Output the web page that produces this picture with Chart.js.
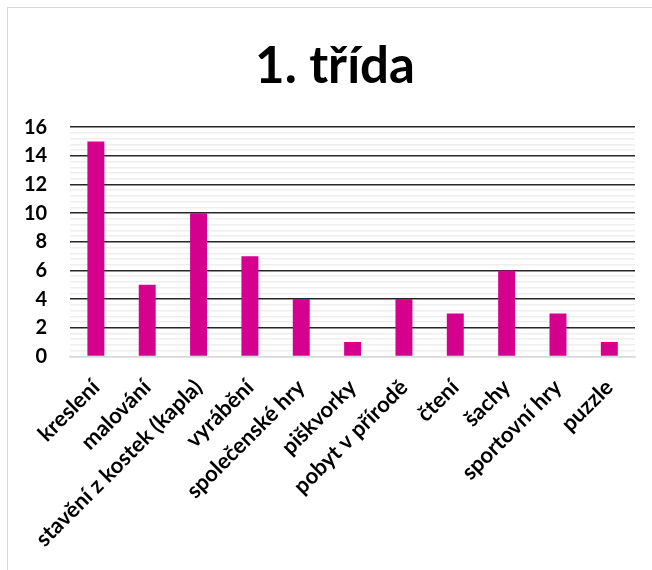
<!DOCTYPE html>
<html>
<head>
<meta charset="utf-8">
<script src="https://cdn.jsdelivr.net/npm/chart.js@4/dist/chart.umd.min.js"></script>
<style>
  html, body { margin: 0; padding: 0; background: #fff; overflow: hidden; }
  .frame { position: absolute; left: 7px; top: 7px; width: 700px; height: 620px; border: 1px solid #d9d9d9; }
  .chart-container { position: absolute; left: 0; top: 0; width: 652px; height: 570px; }
</style>
</head>
<body>
<div class="frame"></div>
<div class="chart-container">
  <canvas id="classChart" width="652" height="570"></canvas>
</div>
<script>
var chartTitle = "1. třída";
var labelData = [
  "kreslení", "malování", "stavění z kostek (kapla)", "vyrábění",
  "společenské hry", "piškvorky", "pobyt v přírodě", "čtení",
  "šachy", "sportovní hry", "puzzle"
];
var countData = [15, 5, 10, 7, 4, 1, 4, 3, 6, 3, 1];
var yMin = 0;
var yMax = 16;
var majorStep = 2;
var minorStep = 0.4;

var barColor = "#d6008f";
var fontFamily = "Lato, 'Open Sans', sans-serif";

function isMajor(v) {
  return Math.abs(v / majorStep - Math.round(v / majorStep)) < 1e-6;
}

// title in the original sits a bit right of the canvas centre
const shiftTitle = {
  id: "shiftTitle",
  afterLayout(chart) {
    if (chart.titleBlock) chart.titleBlock.right += 34;
  }
};

const ctx = document.getElementById("classChart");
new Chart(ctx, {
  type: "bar",
  data: {
    labels: labelData,
    datasets: [
      {
        data: countData,
        backgroundColor: barColor,
        borderWidth: 0,
        categoryPercentage: 1,
        barPercentage: 0.33
      }
    ]
  },
  options: {
    responsive: false,
    animation: false,
    layout: {
      padding: { top: 36, right: 17, bottom: 0, left: 1 }
    },
    plugins: {
      legend: { display: false },
      tooltip: { enabled: false },
      title: {
        display: true,
        text: chartTitle,
        color: "#000",
        font: { family: fontFamily, size: 51, weight: "bold" },
        padding: { top: 0, bottom: 30 }
      }
    },
    scales: {
      x: {
        grid: { display: false, drawTicks: false },
        border: { display: true, color: "#d9d9d9", width: 1.5 },
        afterFit: function (scale) {
          scale.paddingLeft = 0;
          scale.paddingRight = 0;
        },
        ticks: {
          color: "#000",
          font: { family: fontFamily, size: 22, weight: "bold" },
          minRotation: 45,
          maxRotation: 45,
          autoSkip: false,
          padding: 18
        }
      },
      y: {
        min: yMin,
        max: yMax,
        border: { display: false },
        grid: {
          drawTicks: false,
          color: function (c) {
            var v = c.tick ? c.tick.value : 0;
            if (v === yMin) return "#d9d9d9";
            return isMajor(v) ? "#262626" : "#eeeeee";
          },
          lineWidth: 1.5
        },
        ticks: {
          stepSize: minorStep,
          autoSkip: false,
          color: "#000",
          padding: 23,
          font: { family: fontFamily, size: 20, weight: "bold" },
          callback: function (value) {
            return isMajor(value) ? String(Math.round(value)) : "";
          }
        }
      }
    }
  },
  plugins: [shiftTitle]
});
</script>
</body>
</html>
